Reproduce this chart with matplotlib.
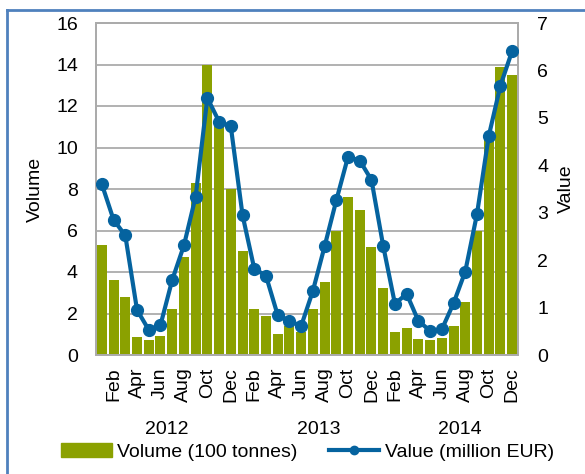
import numpy as np
import matplotlib.pyplot as plt
from matplotlib.patches import Rectangle

plt.rcParams['font.family'] = ['Liberation Sans', 'DejaVu Sans']

# monthly data Jan 2012 .. Dec 2014
months = ["Jan", "Feb", "Mar", "Apr", "May", "Jun",
          "Jul", "Aug", "Sep", "Oct", "Nov", "Dec"] * 3
years = ["2012", "2013", "2014"]

volume = [5.3, 3.6, 2.8, 0.85, 0.7, 0.9, 2.2, 4.7, 8.3, 14.0, 11.3, 8.0,
          5.0, 2.2, 1.9, 1.0, 1.4, 1.1, 2.2, 3.5, 6.0, 7.6, 7.0, 5.2,
          3.25, 1.1, 1.3, 0.75, 0.7, 0.8, 1.4, 2.55, 6.0, 10.5, 13.9, 13.5]

value = [3.6, 2.85, 2.52, 0.95, 0.53, 0.63, 1.58, 2.31, 3.34, 5.42, 4.92, 4.82,
         2.95, 1.82, 1.67, 0.84, 0.72, 0.61, 1.35, 2.29, 3.26, 4.18, 4.10, 3.69,
         2.30, 1.08, 1.29, 0.72, 0.51, 0.54, 1.09, 1.76, 2.97, 4.61, 5.68, 6.41]

bar_color = '#8BA100'
line_color = '#05639F'
grid_color = '#ABABAB'

fig = plt.figure(figsize=(5.85, 4.74), dpi=100)
ax = fig.add_axes([96/585, 1 - 355/474, 422/585, (355 - 23)/474])
ax2 = ax.twinx()

x = np.arange(len(volume))
ax.bar(x, volume, width=0.85, color=bar_color, zorder=2)
ax.set_xlim(-0.5, len(volume) - 0.5)
ax.set_ylim(0, 16)
ax.set_yticks(range(0, 17, 2))
ax.yaxis.grid(True, color=grid_color, linewidth=1.3)
ax.set_axisbelow(True)

ax2.plot(x, value, '-o', color=line_color, linewidth=3, markersize=8.5, zorder=3)
ax2.set_ylim(0, 7)
ax2.set_yticks(range(0, 8))

# every second month labelled
tick_pos = x[1::2]
ax.set_xticks(tick_pos)
ax.set_xticklabels([months[i] for i in tick_pos], rotation=90, fontsize=14)

for a in (ax, ax2):
    a.tick_params(length=0, labelsize=14)
    for s in a.spines.values():
        s.set_color(grid_color)
        s.set_linewidth(1.3)
ax.tick_params(axis='y', pad=13)
ax2.tick_params(axis='y', pad=14)
ax.tick_params(axis='x', pad=9)

ax.set_ylabel("Volume", fontsize=14, labelpad=9)
ax2.set_ylabel("Value", fontsize=14, labelpad=7)

# year labels under the month labels
for xpos, yr in zip([5.5, 18.5, 30.5], years):
    ax.text(xpos, -0.224, yr, transform=ax.get_xaxis_transform(),
            ha='center', va='center', fontsize=14)

h1 = Rectangle((0, 0), 1, 1, color=bar_color)
h2, = ax2.plot([], [], '-o', color=line_color, linewidth=3, markersize=6)
fig.legend([h1, h2], ["Volume (100 tonnes)", "Value (million EUR)"],
           loc='center', bbox_to_anchor=(0.526, 22/474), ncol=2, frameon=False,
           fontsize=14, handlelength=2.6, handletextpad=0.3, columnspacing=1.6)

# light blue frame around the figure
fig.add_artist(plt.Line2D([7/585, 7/585], [0, 1 - 10/474], color='#4F81BD',
                          linewidth=2, transform=fig.transFigure))
fig.add_artist(plt.Line2D([7/585, 1], [1 - 10/474, 1 - 10/474], color='#4F81BD',
                          linewidth=2, transform=fig.transFigure))

fig.savefig("out.png", dpi=100)
